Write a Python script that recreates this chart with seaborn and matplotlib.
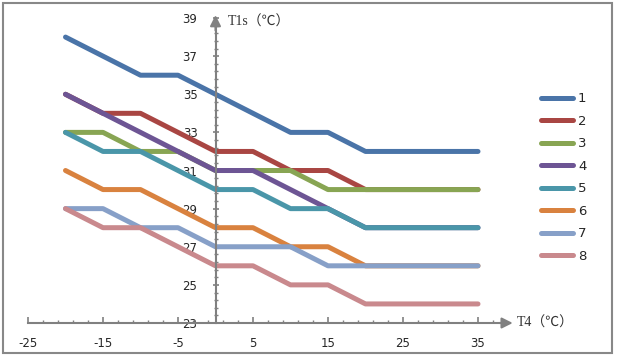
import numpy as np
import pandas as pd
import seaborn as sns
import matplotlib.pyplot as plt
from matplotlib.ticker import FixedLocator
from matplotlib.patches import Rectangle

# T4 outdoor temperature points
t4 = [-20, -15, -10, -5, 0, 5, 10, 15, 20, 25, 30, 35]

# T1s setpoint curves 1..8
curve_1 = [38, 37, 36, 36, 35, 34, 33, 33, 32, 32, 32, 32]
curve_2 = [35, 34, 34, 33, 32, 32, 31, 31, 30, 30, 30, 30]
curve_3 = [33, 33, 32, 32, 31, 31, 31, 30, 30, 30, 30, 30]
curve_4 = [35, 34, 33, 32, 31, 31, 30, 29, 28, 28, 28, 28]
curve_5 = [33, 32, 32, 31, 30, 30, 29, 29, 28, 28, 28, 28]
curve_6 = [31, 30, 30, 29, 28, 28, 27, 27, 26, 26, 26, 26]
curve_7 = [29, 29, 28, 28, 27, 27, 27, 26, 26, 26, 26, 26]
curve_8 = [29, 28, 28, 27, 26, 26, 25, 25, 24, 24, 24, 24]

names = ['1', '2', '3', '4', '5', '6', '7', '8']
curves = [curve_1, curve_2, curve_3, curve_4, curve_5, curve_6, curve_7, curve_8]
colors = ['#4a74a8', '#a94643', '#88a553', '#6d5594', '#4a96a9', '#d9823f', '#87a0c8', '#c9898d']

rows = []
for name, vals in zip(names, curves):
    for x, y in zip(t4, vals):
        rows.append({'T4': x, 'T1s': y, 'curve': name})
df = pd.DataFrame(rows)

sns.set_style('white')
plt.rcParams['font.family'] = ['DejaVu Sans']
plt.rcParams['axes.unicode_minus'] = False

fig = plt.figure(figsize=(6.17, 3.58), dpi=100)
ax = fig.add_axes([28 / 617, 35 / 358, 487.5 / 617, 310.7 / 358])

sns.lineplot(data=df, x='T4', y='T1s', hue='curve', palette=colors, ax=ax,
             linewidth=3.6, sort=False, legend=True, solid_capstyle='round',
             solid_joinstyle='round')

ax.set_xlim(-25, 40)
ax.set_ylim(23, 39.3)

axis_col = '#808080'
for s in ['top', 'right']:
    ax.spines[s].set_visible(False)
ax.spines['left'].set_position(('data', 0))
ax.spines['bottom'].set_position(('data', 23))
ax.spines['left'].set_bounds(23, 38.6)
ax.spines['bottom'].set_bounds(-25, 38.5)
for s in ['left', 'bottom']:
    ax.spines[s].set_color(axis_col)
    ax.spines[s].set_linewidth(1.5)

# arrow heads
ax.annotate('', xy=(40, 23), xytext=(37.5, 23),
            arrowprops=dict(arrowstyle='-|>', color=axis_col, lw=1.5, mutation_scale=16))
ax.annotate('', xy=(0, 39.3), xytext=(0, 38.2),
            arrowprops=dict(arrowstyle='-|>', color=axis_col, lw=1.5, mutation_scale=16))

ax.xaxis.set_major_locator(FixedLocator([-25, -15, -5, 5, 15, 25, 35]))
ax.xaxis.set_minor_locator(FixedLocator(np.arange(-25, 38, 2)))
ax.yaxis.set_major_locator(FixedLocator(np.arange(23, 40, 2)))
ax.yaxis.set_minor_locator(FixedLocator(np.arange(23, 39.1, 0.4)))
ax.tick_params(axis='x', which='major', direction='in', length=4, width=1.2,
               color=axis_col, pad=10, labelsize=8.5, bottom=True)
ax.tick_params(axis='x', which='minor', direction='in', length=2.5, width=1,
               color=axis_col, bottom=True)
ax.tick_params(axis='y', which='major', direction='inout', length=4, width=1.2,
               color=axis_col, pad=11, labelsize=8.5, left=True)
ax.tick_params(axis='y', which='minor', direction='inout', length=3, width=1,
               color=axis_col, left=True)
ax.set_xlabel('')
ax.set_ylabel('')

label_font = ['Liberation Serif', 'Noto Sans CJK SC']
fig.text(228 / 617, 1 - 22 / 358, 'T1s（℃）', family=label_font, fontsize=10,
         va='center', ha='left', color='#333333')
fig.text(517 / 617, 1 - 323 / 358, 'T4（℃）', family=label_font, fontsize=10,
         va='center', ha='left', color='#333333')

ax.legend(loc='center left', bbox_to_anchor=(541 / 617, 1 - 177.5 / 358),
          bbox_transform=fig.transFigure, frameon=False, fontsize=9.5,
          handlelength=2.4, handletextpad=0.4, labelspacing=0.72,
          borderpad=0, borderaxespad=0, title=None)

fig.patches.append(Rectangle((3 / 617, 5 / 358), 609 / 617, 350 / 358,
                             transform=fig.transFigure, fill=False,
                             edgecolor='#888888', linewidth=1.5))

fig.savefig('out.png', dpi=100)
